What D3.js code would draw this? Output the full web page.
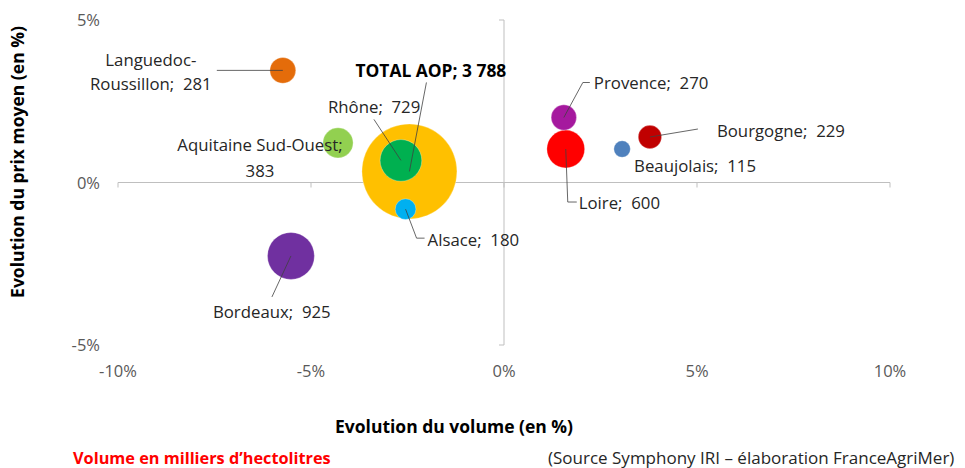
<!DOCTYPE html>
<html><head><meta charset="utf-8">
<script src="https://cdn.jsdelivr.net/npm/d3@7"></script>
<style>
body{margin:0;background:#fff;}
svg text{white-space:pre;}
</style></head>
<body>
<svg id="c" width="965" height="468"></svg>
<script>
// ---- data ----
const regions   = ["Languedoc-Roussillon","Aquitaine Sud-Ouest","TOTAL AOP","Rhône","Alsace","Bordeaux","Provence","Loire","Beaujolais","Bourgogne"];
const volEvol   = [-5.73, -4.30, -2.45, -2.67, -2.55, -5.52, 1.55, 1.60, 3.06, 3.78];
const priceEvol = [ 3.45,  1.22,  0.34,  0.68, -0.82, -2.26, 2.00, 1.03, 1.03, 1.40];
const volumes   = [281, 383, 3788, 729, 180, 925, 270, 600, 115, 229];
const labelText = [["Languedoc-","Roussillon;  281"],["Aquitaine Sud-Ouest;","383"],["TOTAL AOP; 3 788"],["Rhône;  729"],["Alsace;  180"],["Bordeaux;  925"],["Provence;  270"],["Loire;  600"],["Beaujolais;  115"],["Bourgogne;  229"]];
const xTicks = [-10,-5,0,5,10];
const yTicks = [-5,0,5];

// ---- styles / layout ----
const colors = ["#E46C0A","#92D050","#FFC000","#00B050","#00B0F0","#7030A0","#A5199E","#FF0000","#4F81BD","#C00000"];
const layout = [
  {dx:-132, dy:[-10,14], anchor:"middle", leader:[[-66,0],[0,0]]},
  {dx:-78,  dy:[2,28],   anchor:"middle", leader:null},
  {dx:-54,  dy:[-101],   anchor:"start",  leader:[[17,-89],[0,0]], bold:true},
  {dx:-73,  dy:[-53],    anchor:"start",  leader:[[-27,-41],[0,0]]},
  {dx:22,   dy:[31],     anchor:"start",  leader:[[0,0],[11,29],[19,29]]},
  {dx:-78,  dy:[56],     anchor:"start",  leader:[[-19,41],[0,0]]},
  {dx:30,   dy:[-34],    anchor:"start",  leader:[[0,0],[19,-35],[26,-35]]},
  {dx:13,   dy:[54],     anchor:"start",  leader:[[0,0],[2,53],[11,53]]},
  {dx:12,   dy:[17],     anchor:"start",  leader:null},
  {dx:67,   dy:[-6],     anchor:"start",  leader:[[48,-8],[0,0]]}
];
const FONT = "'Open Sans', sans-serif";

const svg = d3.select("#c");
const x = d3.scaleLinear().domain([-10,10]).range([118,890]);
const y = d3.scaleLinear().domain([-5,5]).range([345,20]);
const r = d3.scaleSqrt().domain([0,3788]).range([0,47.5]);

// axes lines
const axisColor = "#BFBFBF";
svg.append("line").attr("x1",x(-10)).attr("x2",x(10)).attr("y1",y(0)).attr("y2",y(0)).attr("stroke",axisColor).attr("stroke-width",1);
svg.append("line").attr("x1",x(0)).attr("x2",x(0)).attr("y1",y(5)).attr("y2",y(-5)).attr("stroke",axisColor).attr("stroke-width",1);
svg.selectAll(".xt").data(xTicks).enter().append("line")
  .attr("x1",d=>x(d)).attr("x2",d=>x(d)).attr("y1",y(0)).attr("y2",y(0)+5).attr("stroke",axisColor);
svg.selectAll(".yt").data(yTicks).enter().append("line")
  .attr("x1",x(0)-5).attr("x2",x(0)).attr("y1",d=>y(d)).attr("y2",d=>y(d)).attr("stroke",axisColor);

// tick labels
svg.selectAll(".xl").data(xTicks).enter().append("text")
  .attr("x",d=>x(d)).attr("y",377).attr("text-anchor","middle")
  .attr("font-family",FONT).attr("font-size",16.5).attr("fill","#595959")
  .text(d=>d+"%");
svg.selectAll(".yl").data(yTicks).enter().append("text")
  .attr("x",100).attr("y",d=>y(d)+6).attr("text-anchor","end")
  .attr("font-family",FONT).attr("font-size",16.5).attr("fill","#595959")
  .text(d=>d+"%");

// bubbles (largest first)
const idx = d3.range(regions.length).sort((a,b)=>volumes[b]-volumes[a]);
svg.selectAll(".b").data(idx).enter().append("circle")
  .attr("cx",i=>x(volEvol[i])).attr("cy",i=>y(priceEvol[i])).attr("r",i=>r(volumes[i]))
  .attr("fill",i=>colors[i]).attr("stroke","#fff").attr("stroke-width",0.5).attr("stroke-opacity",0.6);

// leaders
const line = d3.line();
regions.forEach((n,i)=>{
  const L = layout[i]; if(!L.leader) return;
  const cx = x(volEvol[i]), cy = y(priceEvol[i]);
  svg.append("path").attr("d",line(L.leader.map(p=>[cx+p[0],cy+p[1]])))
    .attr("fill","none").attr("stroke","#404040").attr("stroke-width",0.8);
});
// labels
regions.forEach((n,i)=>{
  const L = layout[i];
  const cx = x(volEvol[i]), cy = y(priceEvol[i]);
  labelText[i].forEach((t,k)=>{
    svg.append("text").attr("x",cx+L.dx).attr("y",cy+L.dy[k]).attr("dy","0.35em")
      .attr("text-anchor",L.anchor).attr("font-family",FONT).attr("font-size",L.bold?17.4:16.8)
      .attr("font-weight",L.bold?"bold":"normal").attr("fill",L.bold?"#000":"#262626")
      .text(t);
  });
});

// axis titles
svg.append("text").attr("transform","translate(24,162) rotate(-90)").attr("text-anchor","middle")
  .attr("font-family",FONT).attr("font-size",17.5).attr("font-weight","bold").attr("fill","#000")
  .text("Evolution du prix moyen (en %)");
svg.append("text").attr("x",454).attr("y",433).attr("text-anchor","middle")
  .attr("font-family",FONT).attr("font-size",17.5).attr("font-weight","bold").attr("fill","#000")
  .text("Evolution du volume (en %)");
svg.append("text").attr("x",73).attr("y",464)
  .attr("font-family",FONT).attr("font-size",16.3).attr("font-weight","bold").attr("fill","#FF0000")
  .text("Volume en milliers d’hectolitres");
svg.append("text").attr("x",548).attr("y",464)
  .attr("font-family",FONT).attr("font-size",17).attr("fill","#262626")
  .text("(Source Symphony IRI – élaboration FranceAgriMer)");
</script>
</body></html>
